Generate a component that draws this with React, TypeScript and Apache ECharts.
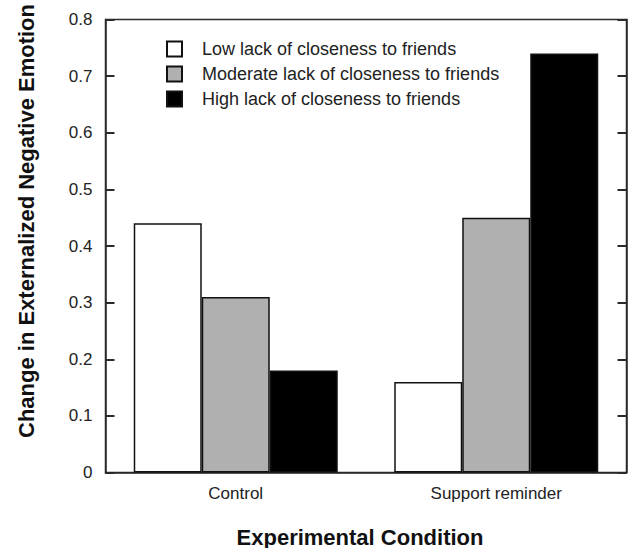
import React, { useEffect, useRef } from "react";
import * as echarts from "echarts";

const categories = ["Control", "Support reminder"];
const seriesNames = [
  "Low lack of closeness to friends",
  "Moderate lack of closeness to friends",
  "High lack of closeness to friends",
];
const lowValues = [0.44, 0.16];
const moderateValues = [0.31, 0.45];
const highValues = [0.18, 0.74];
const seriesColors = ["#ffffff", "#b0b0b0", "#000000"];
const yTicks = [0, 0.1, 0.2, 0.3, 0.4, 0.5, 0.6, 0.7, 0.8];

const FONT = "'Liberation Sans', Arial, Helvetica, sans-serif";
const LINE = "#2a2a2a";

export default function App() {
  const ref = useRef<HTMLDivElement>(null);
  useEffect(() => {
    if (!ref.current) return;
    const chart = echarts.init(ref.current, null, { renderer: "svg" });
    const values = [lowValues, moderateValues, highValues];
    const yAxisBase = {
      type: "value",
      min: 0,
      max: 0.8,
      interval: 0.1,
      axisLine: { show: true, lineStyle: { color: LINE, width: 1.5 } },
      axisTick: { show: true, inside: true, length: 9, lineStyle: { color: LINE, width: 2 } },
      splitLine: { show: false },
    };
    chart.setOption({
      animation: false,
      textStyle: { fontFamily: FONT },
      grid: {
        left: 105.5,
        right: 7.5,
        top: 19.5,
        bottom: 75.5,
        show: true,
        borderColor: LINE,
        borderWidth: 1.5,
        backgroundColor: "transparent",
      },
      legend: {
        orient: "vertical",
        left: 161,
        top: 35,
        padding: 5,
        itemWidth: 15,
        itemHeight: 15,
        itemGap: 7,
        icon: "rect",
        data: seriesNames,
        textStyle: { fontSize: 18, color: "#222", fontFamily: FONT, padding: [0, 0, 0, 15] },
      },
      xAxis: {
        type: "category",
        data: categories,
        axisLine: { show: true, lineStyle: { color: LINE, width: 1.5 } },
        axisTick: { show: false },
        axisLabel: { fontSize: 17, color: "#222", margin: 12, fontFamily: FONT },
      },
      yAxis: [
        {
          ...yAxisBase,
          position: "left",
          axisLabel: {
            fontSize: 17,
            color: "#222",
            margin: 13,
            fontFamily: FONT,
            formatter: (v: number) => {
              const t = yTicks.find((x) => Math.abs(x - v) < 1e-9);
              return t === 0 ? "0" : String(Math.round((t ?? v) * 10) / 10);
            },
          },
        },
        {
          ...yAxisBase,
          position: "right",
          axisLabel: { show: false },
        },
      ],
      series: seriesNames.map((name, i) => ({
        name,
        type: "bar",
        data: values[i],
        barWidth: 68,
        barGap: "0%",
        itemStyle: { color: seriesColors[i], borderColor: "#111", borderWidth: 1.5 },
      })),
      graphic: [
        {
          type: "text",
          x: 26,
          y: 221,
          rotation: Math.PI / 2,
          style: {
            text: "Change in Externalized Negative Emotion",
            font: `bold 22px ${FONT}`,
            fill: "#111",
            align: "center",
            verticalAlign: "middle",
          },
        },
        {
          type: "text",
          x: 360,
          y: 537,
          style: {
            text: "Experimental Condition",
            font: `bold 22px ${FONT}`,
            fill: "#111",
            align: "center",
            verticalAlign: "middle",
          },
        },
      ],
    });
    return () => chart.dispose();
  }, []);
  return <div ref={ref} style={{ width: 634, height: 548, position: "absolute", left: 0, top: 0 }} />;
}
